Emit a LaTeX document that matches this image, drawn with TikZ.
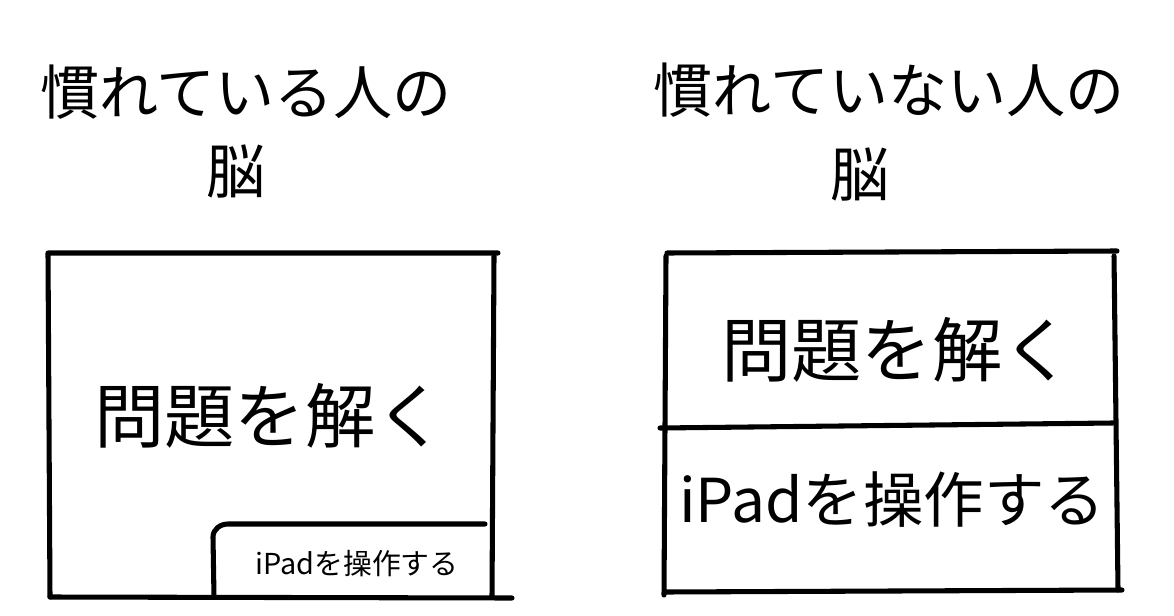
\documentclass[tikz,border=0pt]{standalone}
\usepackage{fontspec}
\setmainfont{Noto Sans CJK JP}

\begin{document}
\begin{tikzpicture}[x=0.025cm,y=-0.025cm,line cap=round,line join=round]
  \tikzset{
    pen/.style={line width=3.6pt,black},
    title/.style={font=\fontsize{42pt}{50pt}\selectfont,inner sep=0pt},
    bigtext/.style={font=\fontsize{50pt}{60pt}\selectfont,inner sep=0pt},
    smalltext/.style={font=\fontsize{20.5pt}{24pt}\selectfont,inner sep=0pt}
  }
  \useasboundingbox (0,0) rectangle (1174,616);
  % titles
  \node[title] (ttlL) at (246,92) {慣れている人の};
  \node[title] (brnL) at (236,172) {脳};
  \node[title] (ttlR) at (889,90) {慣れていない人の};
  \node[title] (brnR) at (860,175) {脳};
  % left brain: one big area, a small corner for the tablet
  \draw[pen] (50,597) -- (48,253) -- (498,253);
  \draw[pen] (494,256) -- (492,597);
  \draw[pen] (50,597) -- (512,598);
  \draw[pen] (214,597) -- (213,537) to[out=90,in=180] (228,524) -- (485,524);
  \node[bigtext] (taskL) at (270,416) {問題を解く};
  \node[smalltext] (ipadL) at (357,564) {iPadを操作する};
  % right brain: split in half
  \draw[pen] (667,253) -- (1117,251);
  \draw[pen] (666,256) -- (664,595);
  \draw[pen] (1114,256) -- (1118,590);
  \draw[pen] (665,592) -- (1122,590);
  \draw[pen] (660,428) -- (1113,423);
  \node[bigtext] (taskR) at (897,350) {問題を解く};
  \node[bigtext,font=\fontsize{43pt}{52pt}\selectfont] (ipadR) at (892,500) {iPadを操作する};
\end{tikzpicture}
\end{document}
